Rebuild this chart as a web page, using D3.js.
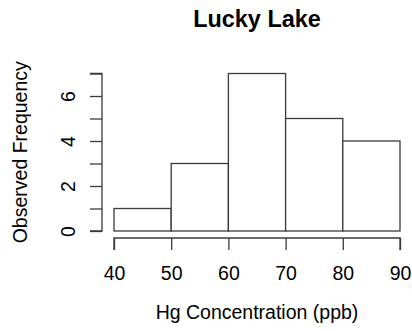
<!DOCTYPE html>
<html>
<head>
<meta charset="utf-8">
<script src="https://cdn.jsdelivr.net/npm/d3@7"></script>
<style>
  html, body { margin: 0; padding: 0; background: #fff; }
  svg { display: block; }
  text { font-family: "Liberation Sans", Arial, Helvetica, sans-serif; fill: #000; }
</style>
</head>
<body>
<script>
// Histogram of mercury concentrations (ppb), 10-ppb bins
const binEdges = [40, 50, 60, 70, 80, 90];
const binCounts = [1, 3, 7, 5, 4];
const xTicks = [40, 50, 60, 70, 80, 90];
const yTicks = [0, 1, 2, 3, 4, 5, 6, 7];
const yTickLabels = [0, 2, 4, 6];
const chartTitle = "Lucky Lake";
const xTitle = "Hg Concentration (ppb)";
const yTitle = "Observed Frequency";

const W = 412, H = 331;
const svg = d3.select("body").append("svg").attr("width", W).attr("height", H);

const x = d3.scaleLinear().domain([40, 90]).range([114, 400]);
const y = d3.scaleLinear().domain([0, 7]).range([231, 73.5]);

const lineColor = "#3a3a3a";
const lw = 1.3;
const fs = 19.5;

// bars
const bins = binCounts.map((c, i) => ({ x0: binEdges[i], x1: binEdges[i + 1], n: c }));
svg.append("g").selectAll("rect").data(bins).join("rect")
  .attr("x", d => x(d.x0))
  .attr("y", d => y(d.n))
  .attr("width", d => x(d.x1) - x(d.x0))
  .attr("height", d => y(0) - y(d.n))
  .attr("fill", "#fff")
  .attr("stroke", lineColor)
  .attr("stroke-width", lw);

// x axis (offset below the plot, R style)
const xAxisY = 238;
const gx = svg.append("g").attr("transform", `translate(0,${xAxisY})`)
  .call(d3.axisBottom(x).tickValues(xTicks).tickSize(12).tickPadding(16).tickSizeOuter(0));
gx.select(".domain").attr("stroke", lineColor).attr("stroke-width", lw)
  .attr("d", `M${x(40)},12V0H${x(90)}V12`);
gx.selectAll(".tick line").attr("stroke", lineColor).attr("stroke-width", lw);
gx.selectAll(".tick text").attr("font-size", fs).attr("font-family", "Liberation Sans, Arial, sans-serif").attr("fill", "#000");

// y axis
const yAxisX = 102;
const gy = svg.append("g").attr("transform", `translate(${yAxisX},0)`)
  .call(d3.axisLeft(y).tickValues(yTicks).tickSize(12).tickSizeOuter(0)
    .tickFormat(d => yTickLabels.includes(d) ? d : ""));
gy.select(".domain").attr("stroke", lineColor).attr("stroke-width", lw)
  .attr("d", `M-12,${y(0)}H0V${y(7)}H-12`);
gy.selectAll(".tick line").attr("stroke", lineColor).attr("stroke-width", lw);
gy.selectAll(".tick text")
  .attr("font-size", fs).attr("font-family", "Liberation Sans, Arial, sans-serif").attr("fill", "#000")
  .attr("x", null).attr("dy", null)
  .attr("text-anchor", "middle")
  .attr("transform", "translate(-27,0) rotate(-90)");

// titles
svg.append("text")
  .attr("x", (x(40) + x(90)) / 2).attr("y", 27)
  .attr("text-anchor", "middle")
  .attr("font-size", 23.4).attr("font-weight", "bold")
  .text(chartTitle);

svg.append("text")
  .attr("x", (x(40) + x(90)) / 2).attr("y", 319)
  .attr("text-anchor", "middle")
  .attr("font-size", fs)
  .text(xTitle);

svg.append("text")
  .attr("transform", `translate(27,${(y(0) + y(7)) / 2}) rotate(-90)`)
  .attr("text-anchor", "middle")
  .attr("font-size", fs)
  .text(yTitle);
</script>
</body>
</html>
